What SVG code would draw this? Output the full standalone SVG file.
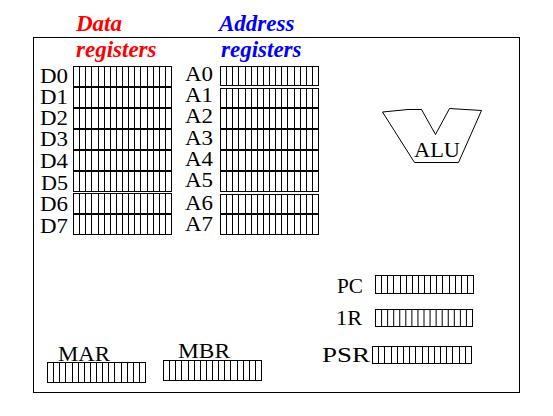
<svg xmlns="http://www.w3.org/2000/svg" xmlns:xlink="http://www.w3.org/1999/xlink" width="553" height="416" viewBox="0 0 553 416">
  <style>
    .lbl { font-family: "Liberation Serif", "Times New Roman", serif; font-size: 21px; fill: #000; }
    .title { font-family: "Liberation Serif", "Times New Roman", serif; font-size: 23px; font-weight: bold; font-style: italic; }
    .red { fill: #ff0000; }
    .blue { fill: #0000ff; }
    .frame { fill: none; stroke: #000; stroke-width: 1; }
  </style>
  <defs>
    <symbol id="reg" viewBox="0 0 16 20" preserveAspectRatio="none" overflow="visible">
      <rect x="0" y="0" width="16" height="20" fill="#fff" stroke="#000" stroke-width="1" vector-effect="non-scaling-stroke" shape-rendering="crispEdges"/>
      <path d="M1 0V20M2 0V20M3 0V20M4 0V20M5 0V20M6 0V20M7 0V20M8 0V20M9 0V20M10 0V20M11 0V20M12 0V20M13 0V20M14 0V20M15 0V20" fill="none" stroke="#000" stroke-width="1" vector-effect="non-scaling-stroke" shape-rendering="crispEdges"/>
    </symbol>
  </defs>
  <rect width="553" height="416" fill="#fff"/>
  <rect id="frame" class="frame" x="33.5" y="37.5" width="486" height="355"/>

  <g id="titles">
    <text class="title red" x="76" y="31">Data</text>
    <text class="title red" x="76" y="57">registers</text>
    <text class="title blue" x="219" y="31">Address</text>
    <text class="title blue" x="221" y="57">registers</text>
  </g>

  <g id="data-registers">
    <g id="D0"><text class="lbl" x="40" y="83" textLength="28" lengthAdjust="spacingAndGlyphs">D0</text><use xlink:href="#reg" x="73.5" y="66.5" width="98" height="20"/></g>
    <g id="D1"><text class="lbl" x="40" y="104" textLength="28" lengthAdjust="spacingAndGlyphs">D1</text><use xlink:href="#reg" x="73.5" y="87.5" width="98" height="20"/></g>
    <g id="D2"><text class="lbl" x="40" y="125" textLength="28" lengthAdjust="spacingAndGlyphs">D2</text><use xlink:href="#reg" x="73.5" y="108.5" width="98" height="20"/></g>
    <g id="D3"><text class="lbl" x="40" y="146" textLength="28" lengthAdjust="spacingAndGlyphs">D3</text><use xlink:href="#reg" x="73.5" y="129.5" width="98" height="20"/></g>
    <g id="D4"><text class="lbl" x="40" y="168" textLength="28" lengthAdjust="spacingAndGlyphs">D4</text><use xlink:href="#reg" x="73.5" y="150.5" width="98" height="20"/></g>
    <g id="D5"><text class="lbl" x="41" y="190" textLength="27" lengthAdjust="spacingAndGlyphs">D5</text><use xlink:href="#reg" x="73.5" y="171.5" width="98" height="20"/></g>
    <g id="D6"><text class="lbl" x="40" y="211" textLength="28" lengthAdjust="spacingAndGlyphs">D6</text><use xlink:href="#reg" x="73.5" y="193.5" width="98" height="20"/></g>
    <g id="D7"><text class="lbl" x="40" y="233" textLength="28" lengthAdjust="spacingAndGlyphs">D7</text><use xlink:href="#reg" x="73.5" y="214.5" width="98" height="20"/></g>
  </g>

  <g id="address-registers">
    <g id="A0"><text class="lbl" x="185" y="81" textLength="28" lengthAdjust="spacingAndGlyphs">A0</text><use xlink:href="#reg" x="220.5" y="66.5" width="98" height="19"/></g>
    <g id="A1"><text class="lbl" x="185" y="102" textLength="28" lengthAdjust="spacingAndGlyphs">A1</text><use xlink:href="#reg" x="220.5" y="88.5" width="98" height="19"/></g>
    <g id="A2"><text class="lbl" x="185" y="123" textLength="28" lengthAdjust="spacingAndGlyphs">A2</text><use xlink:href="#reg" x="220.5" y="108.5" width="98" height="20"/></g>
    <g id="A3"><text class="lbl" x="185" y="145" textLength="28" lengthAdjust="spacingAndGlyphs">A3</text><use xlink:href="#reg" x="220.5" y="129.5" width="98" height="20"/></g>
    <g id="A4"><text class="lbl" x="185" y="166" textLength="28" lengthAdjust="spacingAndGlyphs">A4</text><use xlink:href="#reg" x="220.5" y="150.5" width="98" height="20"/></g>
    <g id="A5"><text class="lbl" x="185" y="187" textLength="28" lengthAdjust="spacingAndGlyphs">A5</text><use xlink:href="#reg" x="220.5" y="171.5" width="98" height="20"/></g>
    <g id="A6"><text class="lbl" x="185" y="210" textLength="28" lengthAdjust="spacingAndGlyphs">A6</text><use xlink:href="#reg" x="220.5" y="194.5" width="98" height="19"/></g>
    <g id="A7"><text class="lbl" x="185" y="231" textLength="28" lengthAdjust="spacingAndGlyphs">A7</text><use xlink:href="#reg" x="220.5" y="214.5" width="98" height="20"/></g>
  </g>

  <g id="ALU">
    <polygon points="382.5,112 408,109.5 421.5,109.5 435.5,134.5 449.5,108.5 481.5,110.5 458.5,162.5 414.5,162.5" fill="#fff" stroke="#000" stroke-width="1"/>
    <text class="lbl" x="414" y="157" font-size="21" textLength="46" lengthAdjust="spacingAndGlyphs">ALU</text>
  </g>

  <g id="PC">
    <text class="lbl" x="337" y="293" font-size="20" textLength="26" lengthAdjust="spacingAndGlyphs">PC</text>
    <use xlink:href="#reg" x="375.5" y="275.5" width="98" height="18"/>
  </g>
  <g id="IR">
    <text class="lbl" x="336" y="325" font-size="20" textLength="26" lengthAdjust="spacingAndGlyphs">1R</text>
    <use xlink:href="#reg" x="375.5" y="309.5" width="97" height="17"/>
  </g>
  <g id="PSR">
    <text class="lbl" x="322" y="362" font-size="20" textLength="48" lengthAdjust="spacingAndGlyphs">PSR</text>
    <use xlink:href="#reg" x="372.5" y="346.5" width="99" height="17"/>
  </g>
  <g id="MAR">
    <text class="lbl" x="58" y="361" font-size="23" textLength="52" lengthAdjust="spacingAndGlyphs">MAR</text>
    <use xlink:href="#reg" x="47.5" y="362.5" width="98" height="20"/>
  </g>
  <g id="MBR">
    <text class="lbl" x="178" y="357.5" font-size="22.5" textLength="52" lengthAdjust="spacingAndGlyphs">MBR</text>
    <use xlink:href="#reg" x="163.5" y="360.5" width="98" height="20"/>
  </g>
</svg>
